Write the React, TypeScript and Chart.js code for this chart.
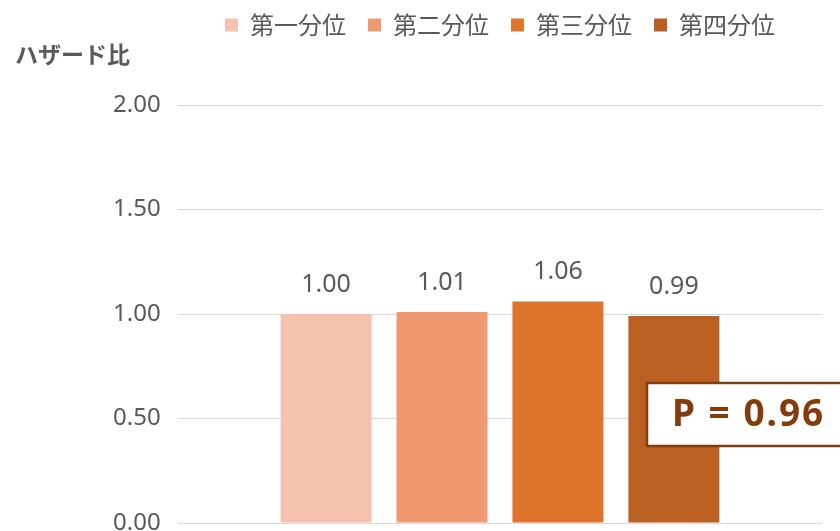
import React, { useEffect, useRef } from 'react';
import { Chart, registerables } from 'chart.js';

Chart.register(...registerables);

const categories = [''];
const seriesNames = ['第一分位', '第二分位', '第三分位', '第四分位'];
const hazardRatios = [1.0, 1.01, 1.06, 0.99];
const seriesColors = ['#F4C2AF', '#F0986F', '#DF742D', '#B96022'];
const yMin = 0;
const yMax = 2;
const yStep = 0.5;
const yAxisTitle = 'ハザード比';
const pValueText = 'P = 0.96';

const FONT = '"Noto Sans", "Noto Sans CJK JP", sans-serif';
const CJK_FONT = '"Noto Sans CJK JP", "Noto Sans", sans-serif';
const TEXT_COLOR = '#595959';
const P_COLOR = '#843C0C';

const annotationsPlugin = {
  id: 'annotationsPlugin',
  afterDatasetsDraw(chart: any) {
    const ctx = chart.ctx as CanvasRenderingContext2D;
    ctx.save();
    // value labels
    ctx.font = `25px ${FONT}`;
    ctx.fillStyle = TEXT_COLOR;
    ctx.textAlign = 'center';
    ctx.textBaseline = 'alphabetic';
    chart.data.datasets.forEach((ds: any, i: number) => {
      const meta = chart.getDatasetMeta(i);
      meta.data.forEach((el: any, j: number) => {
        const v = ds.data[j] as number;
        ctx.fillText(v.toFixed(2), el.x, el.y - 22);
      });
    });
    // axis title (horizontal, top-left)
    ctx.font = `bold 23px ${CJK_FONT}`;
    ctx.textAlign = 'left';
    ctx.textBaseline = 'middle';
    ctx.fillText(yAxisTitle, 15, 54);
    // P value box
    const bx = 647;
    const by = 383;
    const bw = 260;
    const bh = 63;
    ctx.fillStyle = '#FFFFFF';
    ctx.fillRect(bx, by, bw, bh);
    ctx.strokeStyle = P_COLOR;
    ctx.lineWidth = 2.5;
    ctx.strokeRect(bx, by, bw, bh);
    ctx.font = `bold 37px ${FONT}`;
    (ctx as any).letterSpacing = '2px';
    ctx.fillStyle = P_COLOR;
    ctx.textAlign = 'left';
    ctx.textBaseline = 'middle';
    ctx.fillText(pValueText, 672, by + bh / 2 + 1);
    ctx.restore();
  },
};

export default function App() {
  const canvasRef = useRef<HTMLCanvasElement | null>(null);

  useEffect(() => {
    document.body.style.margin = '0';
    const canvas = canvasRef.current;
    if (!canvas) return;
    const chart = new Chart(canvas, {
      type: 'bar',
      data: {
        labels: categories,
        datasets: seriesNames.map((name, i) => ({
          label: name,
          data: [hazardRatios[i]],
          backgroundColor: seriesColors[i],
          borderWidth: 0,
          categoryPercentage: 0.72,
          barPercentage: 0.785,
        })),
      },
      options: {
        responsive: false,
        animation: false,
        devicePixelRatio: 1,
        layout: { padding: { left: 178, right: 18, top: -9, bottom: 37 } },
        plugins: {
          legend: {
            display: true,
            position: 'top',
            labels: {
              boxWidth: 13,
              boxHeight: 13,
              padding: 22,
              color: TEXT_COLOR,
              font: { family: CJK_FONT, size: 24 },
            },
          },
          tooltip: { enabled: false },
        },
        scales: {
          x: {
            position: 'top',
            grid: { display: false },
            border: { display: false },
            ticks: { display: false },
            afterFit: (scale: any) => {
              scale.height = 58;
            },
          },
          y: {
            min: yMin,
            max: yMax,
            border: { display: false },
            grid: { color: '#D9D9D9', lineWidth: 1, drawTicks: false },
            ticks: {
              stepSize: yStep,
              mirror: true,
              padding: -65,
              color: TEXT_COLOR,
              font: { family: FONT, size: 24 },
              callback: (v: any) => Number(v).toFixed(2),
            },
            afterFit: (scale: any) => {
              scale.width = 0;
            },
          },
        },
      },
      plugins: [annotationsPlugin],
    });
    return () => chart.destroy();
  }, []);

  return (
    <div style={{ width: 840, height: 531, overflow: 'hidden', position: 'relative', background: '#fff' }}>
      <canvas ref={canvasRef} width={840} height={560} style={{ display: 'block', width: 840, height: 560 }} />
    </div>
  );
}
